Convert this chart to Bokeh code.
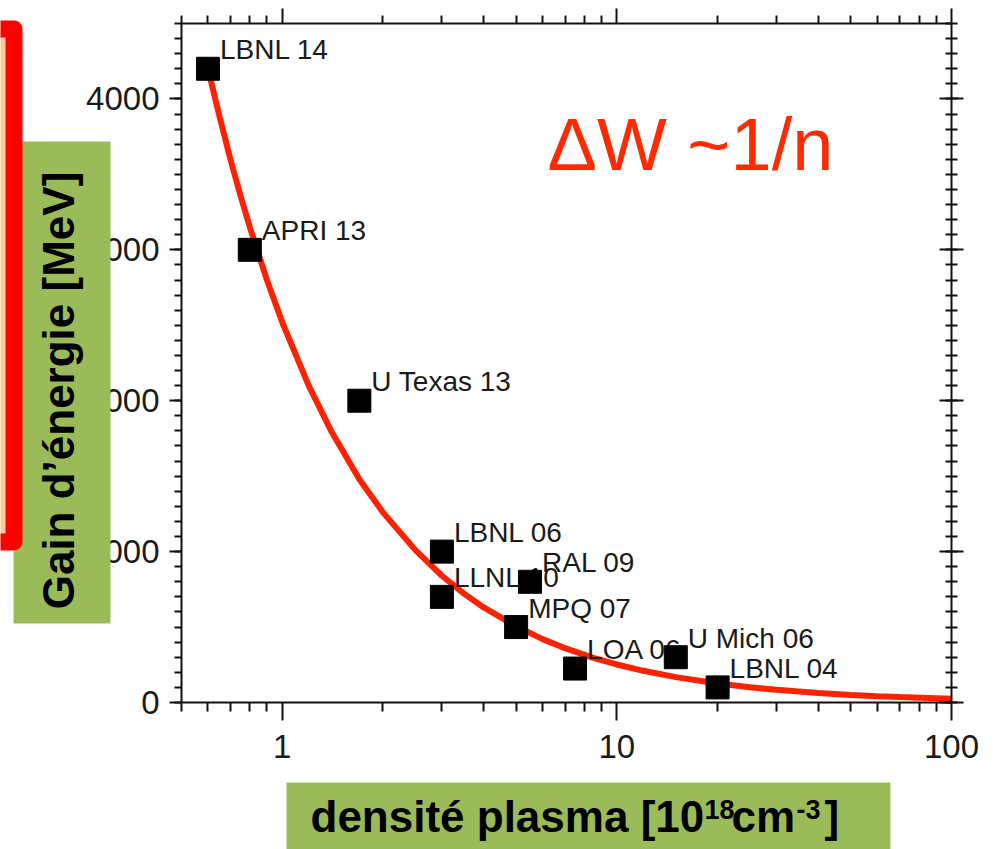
import math
from bokeh.plotting import figure
from bokeh.models import (FixedTicker, LogAxis, LinearAxis, BoxAnnotation, Label,
                          ColumnDataSource, Range1d)
from bokeh.core.properties import value
from bokeh.embed import file_html
from bokeh.resources import INLINE

# ---------------- data ----------------
names = ["LBNL 14", "APRI 13", "U Texas 13", "LBNL 06", "LLNL 10", "RAL 09",
         "MPQ 07", "LOA 06", "U Mich 06", "LBNL 04"]
density = [0.6, 0.8, 1.7, 3.0, 3.0, 5.5, 5.0, 7.5, 15.0, 20.0]
gain = [4200, 3000, 2000, 1000, 700, 800, 500, 225, 300, 100]

# red curve
curve_n = [0.6, 0.65, 0.7, 0.75, 0.8, 0.9, 1.0, 1.2, 1.4, 1.7, 2.0, 2.5, 3.0, 3.5,
           4.0, 5.0, 6.0, 7.0, 8.5, 10, 12, 15, 20, 25, 30, 40, 50, 60, 70, 85, 100]
curve_w = [4200, 3880, 3600, 3360, 3150, 2800, 2520, 2100, 1800, 1480, 1260, 1010,
           840, 720, 630, 505, 420, 360, 296, 252, 210, 168, 126, 101, 84, 63, 50,
           42, 36, 30, 25]

x_ticks = [1, 10, 100]
x_tick_labels = ["1", "10", "100"]
x_minor = [0.5, 0.6, 0.7, 0.8, 0.9, 2, 3, 4, 5, 6, 7, 8, 9,
           20, 30, 40, 50, 60, 70, 80, 90]
y_ticks = [0, 1000, 2000, 3000, 4000]
y_tick_labels = ["0", "1000", "2000", "3000", "4000"]
y_minor = list(range(0, 4600, 100))

y_title = "Gain d’énergie [MeV]"
x_title_parts = ["densité plasma [10", "18", "cm", "-3", "]"]
formula = "ΔW ~1/n"

X_MIN, X_MAX = 0.5, 100
Y_MIN, Y_MAX = 0, 4500

FONT = "Liberation Sans"
W, H = 993, 849
# axis box on the canvas (pixels)
AX_L, AX_R, AX_T, AX_B = 181, 951, 23, 702

decade_px = (AX_R - AX_L) / math.log10(X_MAX / X_MIN)
x_start = 10 ** (math.log10(X_MIN) - AX_L / decade_px)
x_end = 10 ** (math.log10(X_MAX) + (W - AX_R) / decade_px)
per_px = (Y_MAX - Y_MIN) / (AX_B - AX_T)
y_start = Y_MIN - (H - AX_B) * per_px
y_end = Y_MAX + AX_T * per_px

p = figure(x_axis_type="log", x_range=Range1d(x_start, x_end), y_range=Range1d(y_start, y_end),
           frame_width=W, frame_height=H, min_border=0,
           output_backend="svg", toolbar_location=None)
p.outline_line_color = None
p.grid.visible = False
p.background_fill_color = "white"
p.border_fill_color = "white"


def style_axis(ax):
    ax.axis_line_width = 2
    ax.major_tick_line_width = 2
    ax.minor_tick_line_width = 2
    ax.axis_line_color = "#111111"
    ax.major_tick_line_color = "#111111"
    ax.minor_tick_line_color = "#111111"


# bottom axis
xa = p.xaxis[0]
xa.fixed_location = Y_MIN
xa.bounds = (X_MIN, X_MAX)
xa.ticker = FixedTicker(ticks=x_ticks, minor_ticks=x_minor)
xa.major_label_overrides = {t: l for t, l in zip(x_ticks, x_tick_labels)}
style_axis(xa)
xa.major_tick_out = 18
xa.major_tick_in = 0
xa.minor_tick_out = 9
xa.minor_tick_in = 0
xa.major_label_standoff = 14
xa.major_label_text_font = FONT
xa.major_label_text_font_size = "33px"
xa.major_label_text_color = "#1a1a1a"

# left axis
ya = p.yaxis[0]
ya.fixed_location = X_MIN
ya.bounds = (Y_MIN, Y_MAX)
ya.ticker = FixedTicker(ticks=y_ticks, minor_ticks=y_minor)
ya.major_label_overrides = {t: l for t, l in zip(y_ticks, y_tick_labels)}
style_axis(ya)
ya.major_tick_out = 12
ya.major_tick_in = 0
ya.minor_tick_out = 7
ya.minor_tick_in = 0
ya.major_label_standoff = 10
ya.major_label_text_font = FONT
ya.major_label_text_font_size = "33px"
ya.major_label_text_color = "#1a1a1a"

# top axis
ta = LogAxis(ticker=FixedTicker(ticks=x_ticks, minor_ticks=x_minor),
             fixed_location=Y_MAX, bounds=(X_MIN, X_MAX),
             major_label_overrides={t: "" for t in x_ticks},
             major_tick_out=15, major_tick_in=0, minor_tick_out=8, minor_tick_in=0)
style_axis(ta)
p.add_layout(ta, "above")

# right axis
ra = LinearAxis(ticker=FixedTicker(ticks=y_ticks, minor_ticks=y_minor),
                fixed_location=X_MAX, bounds=(Y_MIN, Y_MAX),
                major_label_overrides={t: "" for t in y_ticks},
                major_tick_out=12, major_tick_in=12, minor_tick_out=6, minor_tick_in=6)
style_axis(ra)
p.add_layout(ra, "right")

# curve
p.line(curve_n, curve_w, line_color="#FF2200", line_width=6)

src = ColumnDataSource(dict(x=density, y=gain, name=names))
p.text(x="x", y="y", text="name", source=src, x_offset=12, y_offset=-19,
       text_align="left", text_baseline="alphabetic",
       text_font=value(FONT), text_font_size="28px", text_color="#1a1a1a")
p.scatter(x="x", y="y", source=src, marker="square", size=23,
          fill_color="black", line_color="black")


def sy(cy):
    return H - cy


def screen_box(l, r, t, b, **kw):
    return BoxAnnotation(left=l, right=r, top=sy(t), bottom=sy(b),
                         left_units="screen", right_units="screen",
                         top_units="screen", bottom_units="screen",
                         editable=False, **kw)


# formula
p.add_layout(Label(x=547, y=sy(175 - 31), x_units="screen", y_units="screen",
                   text=formula, text_font=FONT, text_font_size="74px",
                   text_color="#FF2A00", text_align="left", text_baseline="alphabetic"))

# green boxes
p.add_layout(screen_box(13, 110, 141, 623, fill_color="#9BBB59", fill_alpha=1.0,
                        line_color=None))
p.add_layout(screen_box(286, 890, 782, 870, fill_color="#9BBB59", fill_alpha=1.0,
                        line_color=None))

# red rounded box at left (drawn over the green box)
p.add_layout(screen_box(-40, 13.5, 28.5, 541.5, fill_color="#FFCC99", fill_alpha=1.0,
                        line_color="#FF0000", line_width=17, line_alpha=1.0,
                        line_join="round", border_radius=0))

# axis titles
p.add_layout(Label(x=58, y=sy(390), x_units="screen", y_units="screen",
                   text=y_title, angle=math.pi / 2,
                   text_font=FONT, text_font_style="bold", text_font_size="44px",
                   text_color="black", text_align="center", text_baseline="alphabetic"))

# x title pieces: (left x, baseline y, size)
x_title_pos = [(310, 833, 44), (704, 819, 27), (731, 833, 44), (796, 819, 27), (824, 833, 44)]
for txt, (lx, by, fs) in zip(x_title_parts, x_title_pos):
    p.add_layout(Label(x=lx, y=sy(by - 0.38 * fs), x_units="screen", y_units="screen",
                       text=txt, text_font=FONT, text_font_style="bold",
                       text_font_size=f"{fs}px", text_color="black",
                       text_align="left", text_baseline="alphabetic"))

open("out.html", "w").write(file_html(p, INLINE))
